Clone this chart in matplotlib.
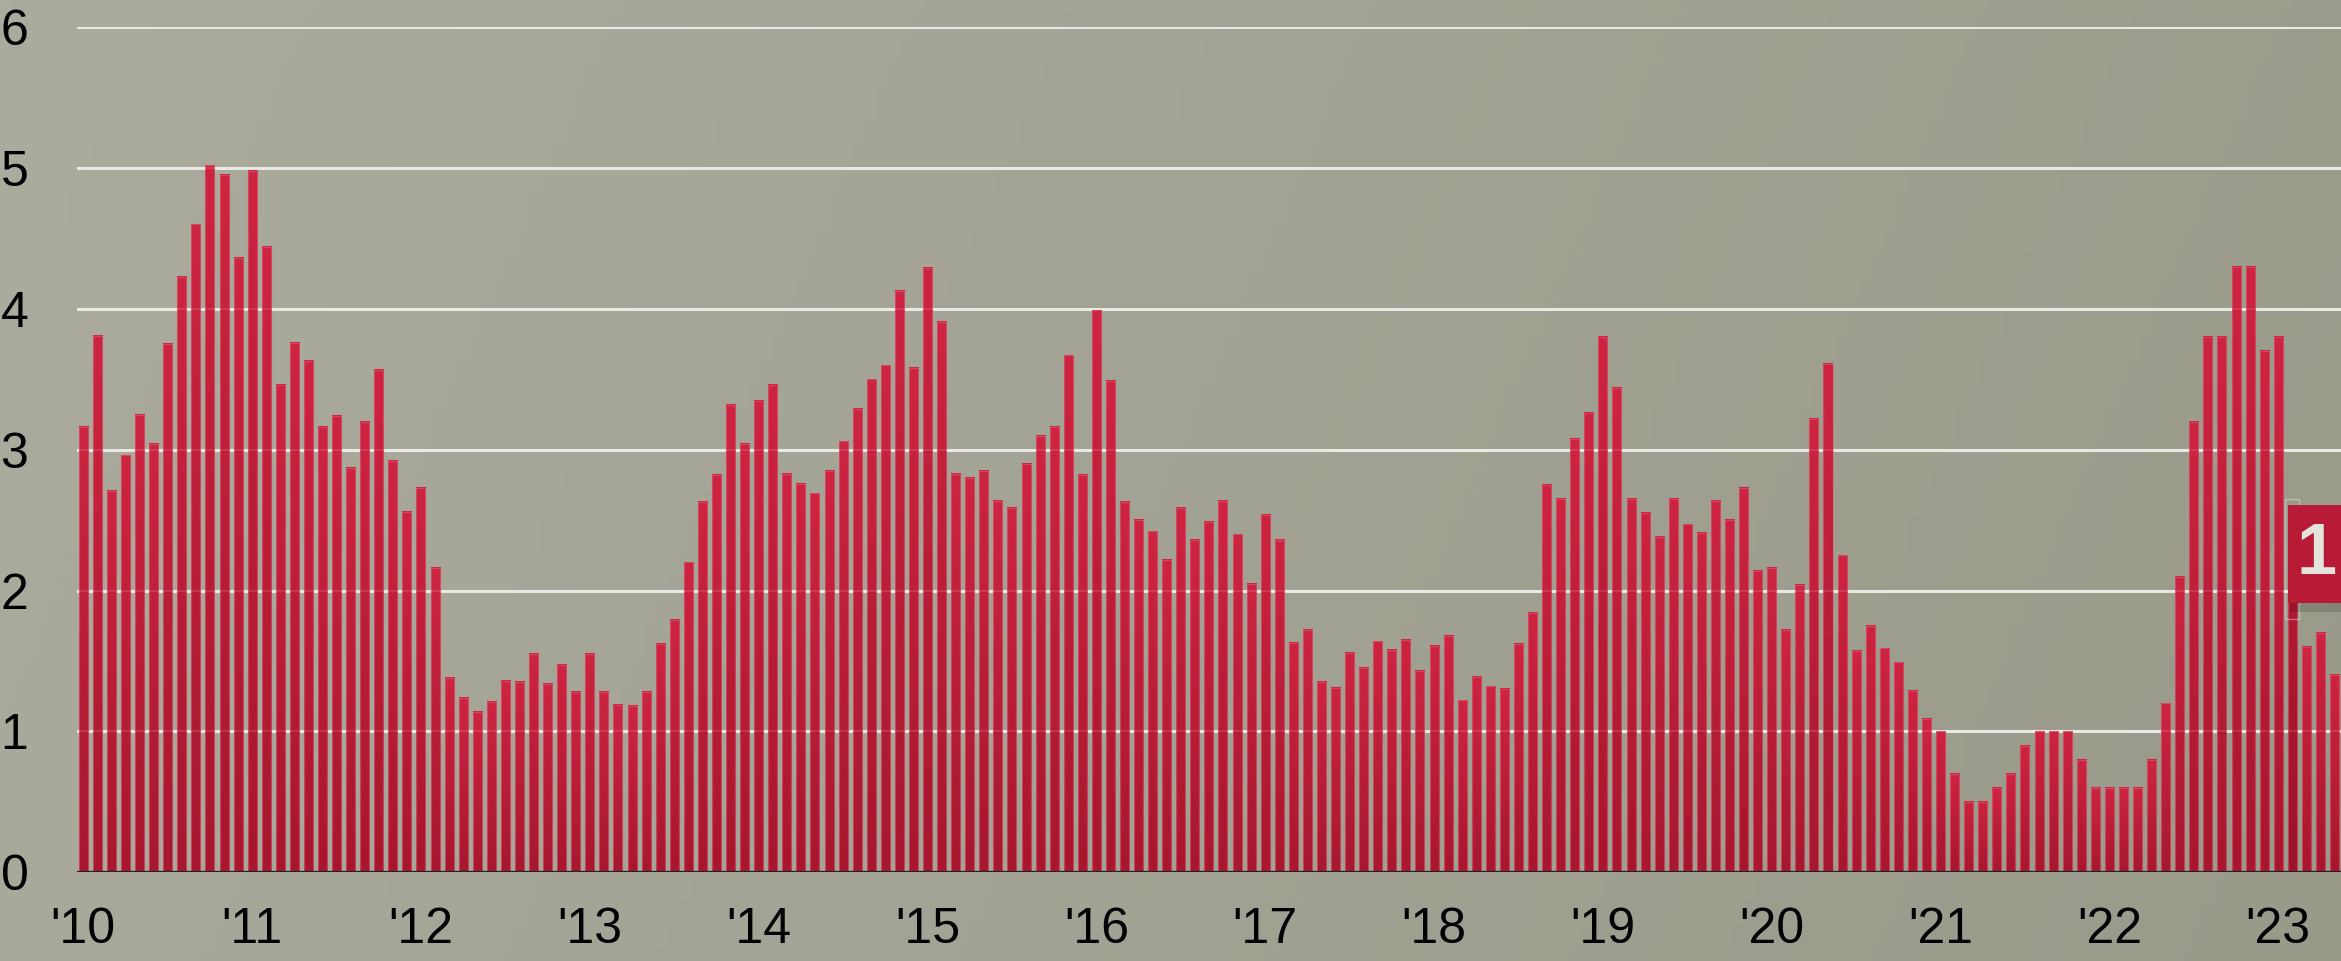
import numpy as np
import matplotlib
matplotlib.use("Agg")
import matplotlib.pyplot as plt
from matplotlib.patches import Rectangle
from matplotlib.colors import LinearSegmentedColormap

# ---- data (monthly, Jan 2010 .. May 2023) ----
vals_2010 = [3.16, 3.81, 2.71, 2.96, 3.25, 3.04, 3.75, 4.23, 4.60, 5.02, 4.95, 4.36]
vals_2011 = [4.98, 4.44, 3.46, 3.76, 3.63, 3.16, 3.24, 2.87, 3.20, 3.57, 2.92, 2.56]
vals_2012 = [2.73, 2.16, 1.38, 1.24, 1.14, 1.21, 1.36, 1.35, 1.55, 1.34, 1.47, 1.28]
vals_2013 = [1.55, 1.28, 1.19, 1.18, 1.28, 1.62, 1.79, 2.20, 2.63, 2.82, 3.32, 3.04]
vals_2014 = [3.35, 3.46, 2.83, 2.76, 2.69, 2.85, 3.06, 3.29, 3.50, 3.60, 4.13, 3.58]
vals_2015 = [4.29, 3.91, 2.83, 2.80, 2.85, 2.64, 2.59, 2.90, 3.10, 3.16, 3.67, 2.82]
vals_2016 = [3.99, 3.49, 2.63, 2.50, 2.42, 2.22, 2.59, 2.36, 2.49, 2.64, 2.40, 2.05]
vals_2017 = [2.54, 2.36, 1.63, 1.72, 1.35, 1.31, 1.56, 1.45, 1.64, 1.58, 1.65, 1.43]
vals_2018 = [1.61, 1.68, 1.22, 1.39, 1.32, 1.30, 1.62, 1.84, 2.75, 2.65, 3.08, 3.26]
vals_2019 = [3.80, 3.44, 2.65, 2.55, 2.38, 2.65, 2.47, 2.41, 2.64, 2.50, 2.73, 2.14]
vals_2020 = [2.16, 1.72, 2.04, 3.22, 3.61, 2.25, 1.57, 1.75, 1.59, 1.49, 1.29, 1.09]
vals_2021 = [1.0, 0.7, 0.5, 0.5, 0.6, 0.7, 0.9, 1.0, 1.0, 1.0, 0.8, 0.6]
vals_2022 = [0.6, 0.6, 0.6, 0.8, 1.2, 2.1, 3.2, 3.8, 3.8, 4.3, 4.3, 3.7]
vals_2023 = [3.8, 2.6, 1.6, 1.7, 1.4]

values = (vals_2010 + vals_2011 + vals_2012 + vals_2013 + vals_2014 + vals_2015 +
          vals_2016 + vals_2017 + vals_2018 + vals_2019 + vals_2020 + vals_2021 +
          vals_2022 + vals_2023)
year_labels = ["'10", "'11", "'12", "'13", "'14", "'15", "'16", "'17", "'18",
               "'19", "'20", "'21", "'22", "'23"]
y_ticks = [0, 1, 2, 3, 4, 5, 6]
tooltip_text = "1"
hover_index = 157

W, H = 2341, 961
fig = plt.figure(figsize=(W / 100, H / 100), dpi=100)

# ---- background gradient ----
bg = fig.add_axes([0, 0, 1, 1], zorder=0)
bg.set_axis_off()
nx, ny = 200, 80
xx, yy = np.meshgrid(np.linspace(0, 1, nx), np.linspace(0, 1, ny))
t = np.clip(0.85 * xx + 0.15 * yy, 0, 1)
c_left = np.array([171, 172, 158]) / 255.0
c_right = np.array([153, 154, 138]) / 255.0
img = c_left[None, None, :] * (1 - t[..., None]) + c_right[None, None, :] * t[..., None]
bg.imshow(img, extent=[0, 1, 0, 1], aspect="auto", origin="upper")
bg.set_xlim(0, 1)
bg.set_ylim(0, 1)

# ---- main axes ----
left_px, right_px = 77, W
bot_px, top_px = 872.3, 27.3
ax = fig.add_axes([left_px / W, 1 - bot_px / H, (right_px - left_px) / W, (bot_px - top_px) / H], zorder=1)
ax.patch.set_alpha(0)

x = np.arange(len(values))
bw = 0.64
bars = ax.bar(x, values, width=bw, color="#c01d38", linewidth=0, zorder=2)

# per-bar vertical gradient
grad_cmap = LinearSegmentedColormap.from_list("bargrad", ["#a8172f", "#cd2441"])
dark_cmap = LinearSegmentedColormap.from_list("bargrad_h", ["#9c1429", "#b81c36"])
grad = np.linspace(0, 1, 64).reshape(-1, 1)
for i, b in enumerate(bars):
    bx, bwid, bh = b.get_x(), b.get_width(), b.get_height()
    ax.imshow(grad, extent=[bx, bx + bwid, 0, bh], origin="lower", aspect="auto",
              cmap=dark_cmap if i == hover_index else grad_cmap, zorder=3,
              interpolation="bilinear")
# subtle lighter outline
ax.bar(x, values, width=bw, fill=False, edgecolor=(0.88, 0.40, 0.48, 0.55), linewidth=0.8, zorder=4)

# gridlines
for yv in y_ticks[1:]:
    ax.axhline(yv, color="#e8e8e2", linewidth=2.2, zorder=1.5)
    ax.axhline(yv, color="#ffffff", linewidth=1.5, alpha=0.12, zorder=4.5)
ax.axhline(0, color="#222222", linewidth=1.6, zorder=5)

ax.set_xlim(-0.448, 160.46)
ax.set_ylim(0, 6)

ax.set_yticks(y_ticks)
ax.set_yticklabels([str(v) for v in y_ticks])
ax.set_xticks(np.arange(0, len(values), 12))
ax.set_xticklabels(year_labels)
ax.tick_params(axis="y", length=0, pad=35, labelsize=36, labelcolor="#000000")
ax.tick_params(axis="x", length=0, pad=25, labelsize=36, labelcolor="#000000")
for lab in ax.get_xticklabels() + ax.get_yticklabels():
    lab.set_fontfamily(["Liberation Sans", "DejaVu Sans"])
for s in ax.spines.values():
    s.set_visible(False)

# ---- hover highlight and tooltip ----
ax.add_patch(Rectangle((hover_index - 0.5, 1.80), 1.0, 0.85, fill=False,
                       edgecolor=(1, 1, 1, 0.35), linewidth=1.0, zorder=6, clip_on=False))
# shadow
ax.add_patch(Rectangle((156.8, 1.85), 6, 0.70, facecolor=(0, 0, 0, 0.15),
                       edgecolor="none", zorder=6.5, clip_on=False))
ax.add_patch(Rectangle((156.7, 1.913), 6, 0.696, facecolor="#b71b36",
                       edgecolor="none", zorder=7, clip_on=False))
ax.text(158.75, 2.25, tooltip_text, ha="center", va="center", fontsize=52,
        fontweight="bold", color="#e4e4dc", family=["Liberation Sans", "DejaVu Sans"],
        zorder=8, clip_on=False)

fig.savefig("out.png", dpi=100)
